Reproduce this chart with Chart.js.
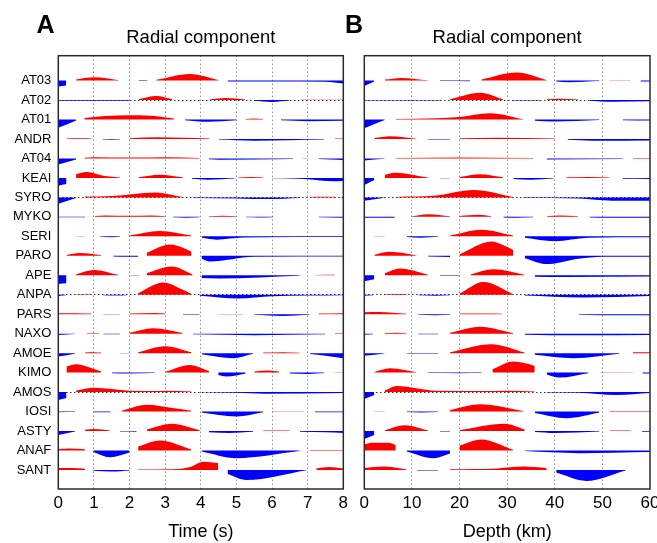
<!DOCTYPE html>
<html>
<head>
<meta charset="utf-8">
<script src="https://cdn.jsdelivr.net/npm/chart.js@4/dist/chart.umd.min.js"></script>
<style>
  html, body { margin: 0; padding: 0; background: #fff; }
  #wrap { position: relative; width: 657px; height: 543px; overflow: hidden; }
  canvas { position: absolute; top: 0; }
  #cA { left: 0; }
  #cB { left: 338px; }
</style>
</head>
<body>
<div id="wrap">
  <canvas id="cA" width="362" height="543"></canvas>
  <canvas id="cB" width="342" height="543"></canvas>
</div>
<script>
// ---------------- DATA ----------------
const stations = ['AT03','AT02','AT01','ANDR','AT04','KEAI','SYRO','MYKO','SERI','PARO','APE','ANPA','PARS','NAXO','AMOE','KIMO','AMOS','IOSI','ASTY','ANAF','SANT'];
const dottedStations = ['AT02','SYRO','ANPA','AMOS'];
const timeTicks = [0,1,2,3,4,5,6,7,8];
const depthTicks = [0,10,20,30,40,50,60];
const panelTitles = ['Radial component','Radial component'];
const panelLetters = ['A','B'];
const axisTitles = ['Time (s)','Depth (km)'];

// Traces vs time (s): [time, amplitude]; null = faded gap
const tracesTime = [
  /*AT03*/ [[0,-6],[0.22,-5],null,[0.5,1.2],[1.0,3.3],[1.7,0.3],null,[2.25,-0.5],[2.5,-0.5],null,[2.75,0.8],[3.7,6.7],[4.5,0.6],null,[4.75,-1],[6,-0.8],[7.5,-1.2],[8,-2.8]],
  /*AT02*/ [[0,-0.6],[2.0,-0.6],null,[2.25,0.8],[2.75,4],[3.2,0.8],null,[4.25,0.6],[4.7,2],[5.25,0.5],null,[5.5,-0.6],[6.0,-1.8],[6.5,-0.5],null,[6.8,0.3],[8,0.3]],
  /*AT01*/ [[0,-8.3],[0.5,-1],null,[0.73,1.5],[1.3,3.5],[2.0,4.3],[2.6,3.8],[3.25,1],null,[3.55,-0.7],[4.2,-2.3],[5.0,-0.8],null,[5.25,0.6],[5.5,1],[5.75,0.5],null,[6.25,-0.8],[7.0,-1.7],[8,-1.3]],
  /*ANDR*/ [[0.23,0.4],[0.6,0.7],[0.93,0.4],null,[1.25,-0.5],[1.5,-0.7],[1.73,-0.5],null,[2.0,0.8],[2.8,1.7],[4.25,0.5],null,[4.5,-0.6],[5.5,-1.7],[7.47,-0.5],null,[7.76,0.4],[8,0.5]],
  /*AT04*/ [[0,-6],[0.5,-1],null,[0.73,0.8],[1.0,1.3],[2.0,0.9],[3.0,1.3],[3.97,0.6],null,[4.23,-0.7],[4.5,-1.2],[6.6,-0.4],null,[6.85,0.3],[7.0,0.3],null,[7.3,-0.6],[8,-1.4]],
  /*KEAI*/ [[0,-7.7],[0.23,-6],null,[0.5,4],[0.8,6],[1.3,2],[1.73,0.5],null,[2.25,0.7],[2.85,3.3],[3.5,0.6],null,[3.75,-0.8],[4.2,-1.7],[4.95,-0.6],null,[5.05,0.4],[5.4,0.9],[5.75,0.4],null,[6.0,-0.4],[7.0,-1.2],[7.7,-3.3],[8,-3]],
  /*SYRO*/ [[0,-6.3],[0.52,-0.3],null,[0.75,0.8],[1.5,1.5],[2.72,5],[3.49,0.3],null,[3.77,-0.5],[5.0,-1],[5.9,-1.7],[6.78,-0.6],null,[7.06,0.4],[7.4,0.7],[7.8,0.4],null,[7.9,-0.3],[8,-0.3]],
  /*MYKO*/ [[0,-0.4],[0.75,-0.4],null,[1.03,0.8],[1.3,1.3],[2.0,1.0],[2.6,1.3],[3.0,0.5],null,[3.22,-0.5],[3.6,-0.8],[3.97,-0.5],null,[4.23,0.6],[4.6,1.0],[5.0,0.5],null,[5.26,-0.5],[5.6,-0.7],[6.03,-0.4],null,[7.3,-0.5],[8,-0.8]],
  /*SERI*/ [[0.5,0.3],[0.75,0.3],null,[1.17,-0.5],[1.5,-0.8],[1.73,-0.5],null,[2.0,0.8],[2.85,5.3],[3.74,0.8],null,[4.02,-1.5],[4.44,-3.3],[5.2,-1.2],[8,-0.7]],
  /*PARO*/ [[0.23,0.8],[0.6,2.7],[1.21,0.5],null,[1.54,-0.6],[2.0,-1],[2.24,-1],null,[2.48,3],[3.13,11.3],[3.5,8],[3.74,4],null,[4.02,-3],[4.25,-5.7],[5.5,-1],[8,-0.6]],
  /*APE */ [[0,-8.7],[0.23,-8],null,[0.5,1],[1.0,5.3],[1.68,0.4],null,[2.0,-0.3],[2.3,-0.3],null,[2.48,2],[3.18,8.7],[3.77,1],null,[4.02,-2.7],[4.5,-3.3],[6.78,-0.6],null,[7.2,0.3],[7.76,0.4]],
  /*ANPA*/ [[0,-1.2],[0.23,-0.6],null,[0.5,0.5],[0.9,0.5],null,[1.26,-0.5],[1.6,-0.8],[1.92,-0.5],null,[2.24,1.5],[2.94,12.3],[3.5,5],[3.74,0.8],null,[3.97,-1],[5.05,-3.7],[6.0,-1.5],[8,-0.6]],
  /*PARS*/ [[0,1],[0.5,1],[0.93,0.6],null,[1.26,-0.3],[1.73,-0.4],null,[2.0,0.7],[2.7,1.3],[3.0,0.8],null,[3.5,-0.5],[3.97,-0.6],null,[4.5,0.3],[5.2,0.3],null,[5.5,-0.6],[6.3,-1.7],[7.05,-0.6],null,[7.3,0.6],[8,1]],
  /*NAXO*/ [[0,-1.3],[0.47,-0.3],null,[0.8,0.3],[1.15,0.3],null,[1.26,-0.5],[1.73,-0.7],null,[2.0,0.8],[2.66,5.3],[3.49,0.6],null,[3.77,-0.6],[5.5,-1.5],[7.5,-0.6],null,[7.76,0.3],[8,0.3]],
  /*AMOE*/ [[0,-3.3],[0.47,-0.5],null,[0.75,0.7],[1.0,1],[1.21,0.6],null,[1.73,-0.3],[2.0,-0.3],null,[2.24,1],[3.0,7],[3.74,1],null,[4.02,-1.2],[4.91,-5],[5.47,-0.6],null,[5.75,0.6],[6.3,1],[6.78,0.5],null,[7.06,-0.8],[7.5,-2.5],[8,-5]],
  /*KIMO*/ [[0.23,6],[0.51,8.3],[0.8,6],[1.21,1],null,[1.5,-0.7],[2.0,-1],[2.71,-0.5],null,[3.02,1],[3.69,7.7],[4.23,1.5],null,[4.49,-2.5],[4.72,-4],[5.26,-0.8],null,[5.5,1.2],[5.9,2],[6.2,1],null,[6.5,-1],[7.0,-1.3],[7.47,-0.4],null,[7.76,0.3],[8,0.3]],
  /*AMOS*/ [[0,-8],[0.23,-6],null,[0.5,1.5],[1.0,4.3],[2.0,1.3],[2.7,1],[3.0,1.4],[3.74,0.6],null,[3.97,-0.3],[5.0,-0.8],[5.8,-1.7],[8,-1]],
  /*IOSI*/ [[0,-0.6],[0.47,-0.5],null,[1.0,-0.6],[1.47,-0.6],null,[1.78,0.8],[2.48,6.7],[3.2,3.5],[3.74,0.8],null,[4.02,-1],[5.0,-5],[5.75,-0.8],null,[6.0,0.4],[6.9,0.4],null,[7.2,-0.6],[8,-0.7]],
  /*ASTY*/ [[0,-4],[0.47,-0.5],null,[0.75,1.2],[1.0,2],[1.45,0.6],null,[1.73,-0.5],[2.2,-0.7],null,[2.48,1.5],[3.18,7.3],[3.97,0.8],null,[4.23,-1.2],[4.8,-2],[5.47,-0.8],null,[5.75,0.4],[6.5,0.4],null,[6.78,-0.8],[7.5,-1.3],[8,-2]],
  /*ANAF*/ [[0,1.5],[0.3,2],[0.75,1.2],null,[0.98,-1.5],[1.45,-6.7],[2.0,-2],null,[2.24,4],[2.85,10],[3.74,1],null,[4.02,-1],[5.0,-7.7],[6.78,-0.6],null,[7.06,0.4],[8,0.4]],
  /*SANT*/ [[0,1.8],[0.4,2],[0.75,1.2],null,[0.98,-0.8],[1.5,-1.7],[2.0,-0.6],null,[2.24,0.5],[3.2,0.7],[3.7,3],[4.07,8.3],[4.49,7],null,[4.75,-4],[5.28,-10],[6.97,-0.3],null,[7.24,1.5],[7.6,3],[8,1.5]]
];

// Traces vs depth (km): [depth, amplitude]; null = faded gap
const tracesDepth = [
  /*AT03*/ [[0,-5.3],[2.1,-1],null,[4.3,1],[7.8,2.7],[13.4,0.3],null,[15.9,-0.5],[22.2,-0.6],null,[24.6,1],[32,8],[38.3,0.5],null,[40.3,-0.8],[43,-1.7],[49.4,-0.5],null,[51.5,0.3],[56,0.3],null,[58,-1],[60,-1]],
  /*AT02*/ [[0,-0.5],[16,-0.5],null,[18,0.8],[24.3,7.3],[29.2,0.6],null,[31,-0.3],[37,-0.3],null,[38.3,0.8],[41,1.3],[44.9,0.5],null,[47.3,-0.6],[52,-1.7],[60,-1.2]],
  /*AT01*/ [[0,-8.7],[4.3,-0.5],null,[6.6,0.6],[15,1.2],[20,2.5],[26.4,6.3],[33.4,0.3],null,[35.8,-1.2],[39.7,-2],[49.4,-0.5],null,[54.3,-0.7],[60,-1]],
  /*ANDR*/ [[2.1,1],[5.4,2.7],[11,0.3],null,[13.4,-0.5],[18,-0.6],null,[20,0.8],[28,1.3],[40,0.4],null,[42.7,-0.8],[48,-1.7],[60,-1.5]],
  /*AT04*/ [[0,-2],[4.3,-0.3],null,[6.6,0.6],[20,1],[35.5,0.5],null,[38.3,-1],[54.3,-0.5],null,[56.4,0.5],[60,0.6]],
  /*KEAI*/ [[0,-7],[2.1,-2],null,[4.3,3],[6.4,5.3],[13.4,0.4],null,[15.9,-0.2],[18,-0.2],null,[20,1],[24.3,3.7],[29.2,0.6],null,[31.3,-1],[35,-1.7],[39.7,-0.6],null,[42.4,0.6],[47,1],[51.5,0.4],null,[54.3,-0.8],[60,-1]],
  /*SYRO*/ [[0,-3.3],[4.3,-0.3],null,[6.6,0.5],[15,1.8],[22.9,7.3],[31.3,0.3],null,[33.4,-0.6],[45,-1.2],[52,-3.3],[60,-3.3]],
  /*MYKO*/ [[0,-1],[6.4,-0.8],null,[10,0.6],[13.5,2.7],[18,0.6],null,[20,0.8],[24,2],[26.7,0.6],null,[29.2,-0.6],[32,-1],[35.5,-0.5],null,[38.3,0.7],[41,1.3],[44.9,0.5],null,[47.3,-0.6],[52,-1],[60,-1]],
  /*SERI*/ [[2.1,0.4],[4.3,0.4],null,[8.9,-0.6],[12,-1.3],[15.5,-0.5],null,[18,0.8],[24.6,6.7],[31.3,0.8],null,[33.7,-1.5],[40,-5],[47,-1.5],[60,-1]],
  /*PARO*/ [[2.1,1],[5.4,4],[11,0.4],null,[13.4,-0.8],[18,-1.3],null,[20,1.5],[26.7,14.3],[29,11],[31.3,5.7],null,[33.7,-2.5],[38.3,-8.3],[45,-3],[50,-1],[60,-1]],
  /*APE */ [[0,-6],[2.1,-4],null,[4.3,2],[7.5,6.7],[13.4,0.5],null,[15.9,-0.4],[20,-0.5],null,[22.4,1],[27.1,6],[33.7,0.6],null,[35.8,-1.5],[42,-1.7],[60,-1.2]],
  /*ANPA*/ [[0,-1],[1.9,-0.6],null,[4.3,0.6],[8.9,0.7],null,[11.3,-0.6],[15,-1],[18,-0.6],null,[20,1],[25,12.7],[31.3,0.5],null,[33.7,-0.8],[46,-2.7],[60,-1.2]],
  /*PARS*/ [[0,2],[3,2.2],[8.9,0.5],null,[11.3,-0.6],[15,-1],[18,-0.6],null,[20,0.6],[25,0.7],[29,0.4],null,[45,-0.6],[50,-1],[60,-1]],
  /*NAXO*/ [[0,-1.2],[1.9,-0.5],null,[4.3,0.6],[6.5,1],[8.9,0.5],null,[11.3,-0.5],[15.5,-0.7],null,[18,0.8],[24.3,7],[31.3,0.6],null,[33.7,-1],[45,-1.7],[60,-1.3]],
  /*AMOE*/ [[0,-2.7],[4.3,-0.3],null,[8.9,-0.5],[15.5,-0.7],null,[18,1],[26.7,9],[33.7,0.7],null,[35.8,-1.5],[43.9,-5],[53.6,-0.5],null,[56.4,0.8],[60,1]],
  /*KIMO*/ [[2.1,0.6],[5.4,4.3],[11,0.4],null,[13.4,-0.5],[20,-0.7],[24.6,-0.5],null,[26.9,3.3],[31.3,11],[34,9],[35.8,6.7],null,[38.3,-2],[41,-5],[47,-0.6],null,[49.4,0.4],[56.4,0.4],null,[58.4,-1],[60,-1]],
  /*AMOS*/ [[0,-7],[2.1,-3],null,[4.3,1.5],[6.8,6],[15,1.3],[25,1],[30,1.3],[35.8,0.5],null,[38.3,-0.5],[45,-0.8],[53,-3],[60,-1]],
  /*IOSI*/ [[2.1,0.4],[4.3,0.4],null,[8.9,-0.5],[12,-1],[15.5,-0.5],null,[18,1.5],[24.3,7.3],[33.4,0.6],null,[35.8,-1.5],[42.5,-6.7],[49.4,-1],null,[51.5,0.5],[60,0.6]],
  /*ASTY*/ [[0,-8],[2.1,-4],null,[4.3,0.8],[8.5,5.7],[13.4,0.4],null,[15.9,-0.5],[18,-0.5],null,[20,1],[29.5,7.3],[33.7,1.5],null,[35.8,-1],[40,-2],[49.4,-0.5],null,[51.5,0.4],[56,0.4],null,[58.3,-0.7],[60,-0.7]],
  /*ANAF*/ [[0,6],[1.5,7.7],[5,7.7],[6.6,5.5],null,[8.9,-1],[14.5,-7.7],[18,-3],null,[20,5],[24.6,11],[31.3,0.6],null,[33.7,-0.6],[45,-2.7],[60,-1.5]],
  /*SANT*/ [[0,2],[4,3.3],[8.9,0.4],null,[11,-0.5],[15.5,-0.7],null,[18,0.6],[28,1.5],[33.4,3.3],[38.3,2],null,[40.3,-2.7],[46.6,-11],[55,-0.3]]
];

// ---------------- STYLE ----------------
const GAIN = 1 / 19.47;           // amplitude units -> row spacing
const POS = 'rgb(255,0,0)', NEG = 'rgb(0,0,255)';
const FONT = "'Liberation Sans', Arial, Helvetica, sans-serif";
Chart.defaults.color = '#000';
Chart.defaults.font.family = FONT;

function buildDatasets(traces) {
  const out = [];
  traces.forEach((tr, i) => {
    [1, -1].forEach(sign => {
      const pts = [];
      let lastX = 0;
      tr.forEach(p => {
        if (p === null) { pts.push({x: lastX, y: null}); return; }
        lastX = p[0];
        pts.push({x: p[0], y: (p[1] * sign > 0) ? i - p[1] * GAIN : null});
      });
      out.push({
        label: stations[i] + (sign > 0 ? '+' : '-'),
        data: pts,
        borderColor: 'rgba(0,0,0,0)',
        borderWidth: 0,
        pointRadius: 0,
        spanGaps: false,
        cubicInterpolationMode: 'monotone',
        backgroundColor: sign > 0 ? POS : NEG,
        fill: {value: i}
      });
    });
  });
  return out;
}

const frame = {
  id: 'frame',
  afterDatasetsDraw(chart) {
    const {ctx, chartArea: a} = chart;
    ctx.save();
    ctx.strokeStyle = '#2a2a2a';
    ctx.lineWidth = 1.5;
    ctx.strokeRect(a.left, a.top, a.right - a.left, a.bottom - a.top);
    ctx.restore();
  }
};

function letterPlugin(letter, x) {
  return {
    id: 'letter' + letter,
    afterDraw(chart) {
      const ctx = chart.ctx;
      ctx.save();
      ctx.font = "bold 25px " + FONT;
      ctx.fillStyle = '#000';
      ctx.textBaseline = 'alphabetic';
      ctx.textAlign = 'left';
      ctx.fillText(letter, x, 33.4);
      ctx.restore();
    }
  };
}

function makeChart(canvasId, traces, ticks, panel, showLabels) {
  const xmin = ticks[0], xmax = ticks[ticks.length - 1];
  return new Chart(document.getElementById(canvasId), {
    type: 'line',
    data: {datasets: buildDatasets(traces)},
    plugins: [frame, letterPlugin(panelLetters[panel], showLabels ? 36.5 : 7)],
    options: {
      responsive: false,
      animation: false,
      devicePixelRatio: 1,
      layout: {padding: showLabels ? {left: 0, right: 18.7, top: 0, bottom: 0} : {left: 26.3, right: 30, top: 0, bottom: 0}},
      plugins: {
        legend: {display: false},
        tooltip: {enabled: false},
        title: {
          display: true,
          text: panelTitles[panel],
          fullSize: false,
          font: {size: 18.5, weight: 'normal', family: FONT},
          color: '#000',
          padding: {top: 27, bottom: 6.5}
        }
      },
      scales: {
        x: {
          type: 'linear',
          min: xmin, max: xmax,
          afterBuildTicks: s => { s.ticks = ticks.map(v => ({value: v})); },
          ticks: {font: {size: 17}, padding: 4, color: '#000', maxRotation: 0, autoSkip: false},
          grid: {
            drawTicks: false,
            lineWidth: 1,
            color: c => (c.tick && (c.tick.value === xmin || c.tick.value === xmax)) ? 'transparent' : '#555'
          },
          border: {display: false, dash: [1, 3]},
          title: {display: true, text: axisTitles[panel], font: {size: 18}, color: '#000', padding: {top: 0, bottom: 0}},
          afterFit: s => { s.height = 54; }
        },
        y: {
          type: 'linear',
          display: showLabels ? true : 'auto',
          reverse: true,
          min: -1.28, max: 20.98,
          afterBuildTicks: s => { s.ticks = stations.map((_, i) => ({value: i})); },
          ticks: {
            display: showLabels,
            font: {size: 13},
            padding: 7,
            color: '#000',
            autoSkip: false,
            callback: v => stations[Math.round(v)]
          },
          grid: {
            drawTicks: false,
            lineWidth: 1,
            color: c => (c.tick && dottedStations.includes(stations[Math.round(c.tick.value)])) ? '#333' : 'transparent'
          },
          border: {display: false, dash: [1.5, 2.5]},
          afterFit: s => { s.width = showLabels ? 58.3 : 0; }
        }
      }
    }
  });
}

makeChart('cA', tracesTime, timeTicks, 0, true);
makeChart('cB', tracesDepth, depthTicks, 1, false);
</script>
</body>
</html>
